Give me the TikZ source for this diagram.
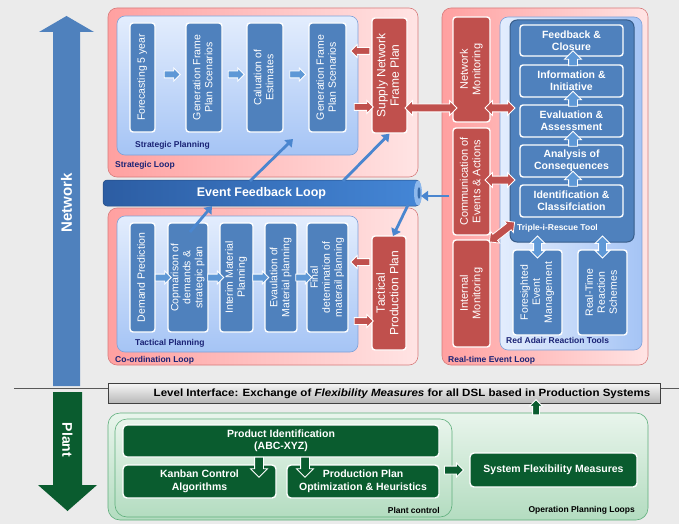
\documentclass[tikz,border=0pt]{standalone}
\usepackage{fontspec}
\setmainfont{Liberation Sans}
\usetikzlibrary{shapes.arrows,arrows.meta,calc}
\definecolor{bgc}{HTML}{EBEBEB}
\definecolor{bblue}{HTML}{4F81BD}
\definecolor{bblueD}{HTML}{385D8A}
\definecolor{bred}{HTML}{C0504D}
\definecolor{dgreen}{HTML}{0A5C2F}
\definecolor{navy}{HTML}{1A2375}
\definecolor{pinkL}{HTML}{FFA0A0}
\definecolor{pinkR}{HTML}{FFE4E4}
\definecolor{pinkB}{HTML}{D77B7B}
\definecolor{lbT}{HTML}{E3EDFD}
\definecolor{lbB}{HTML}{A5C4F5}
\definecolor{lbD}{HTML}{7FA1D8}
\definecolor{arrblue}{HTML}{4A86CF}
\definecolor{smallblue}{HTML}{5E98D6}
\definecolor{gT}{HTML}{E9F5EC}
\definecolor{gB}{HTML}{B3DCC0}
\definecolor{gD}{HTML}{5FAF7C}
\definecolor{efL}{HTML}{2C5DA3}
\definecolor{efR}{HTML}{4486D6}
\definecolor{efCap}{HTML}{8DB8EC}
\newcommand{\vt}[1]{\rotatebox{90}{\begin{tabular}{@{}c@{}}#1\end{tabular}}}
\newcommand{\BX}[7][]{\node[#2,minimum width={(#5-#3)*1pt},minimum height={(#6-#4)*1pt},#1] (#7) at ({(#3+#5)/2},{(#4+#6)/2})}
\tikzset{
 loopbox/.style={draw=pinkB, line width=0.6pt, rounded corners=9pt, left color=pinkL, right color=pinkR, inner sep=0pt},
 planbox/.style={draw=lbD, line width=0.6pt, rounded corners=8pt, top color=lbT, bottom color=lbB, inner sep=0pt},
 planboxh/.style={draw=lbD, line width=0.6pt, rounded corners=8pt, left color=lbT, right color=lbB, inner sep=0pt},
 bluebox/.style={draw=white, line width=1.4pt, rounded corners=3pt, fill=bblue, text=white, inner sep=0pt, font=\fontsize{10.5}{12}\selectfont},
 redbox/.style={bluebox, fill=bred},
 ibox/.style={bluebox, font=\fontsize{10.5}{12}\selectfont\bfseries, align=center},
 tribox/.style={draw=bblueD, line width=1pt, rounded corners=7pt, fill=bblue, inner sep=0pt},
 greenbox/.style={draw=white, line width=1.4pt, rounded corners=4pt, fill=dgreen, text=white, inner sep=0pt, font=\fontsize{10.5}{12.5}\selectfont\bfseries, align=center},
 gbox/.style={draw=gD, line width=0.6pt, rounded corners=12pt, top color=gT, bottom color=gB, inner sep=0pt},
 lvlbox/.style={draw=black!75, line width=0.7pt, top color=white!97!black, bottom color=black!28, inner sep=0pt},
 efbar/.style={draw=efL!80!black, line width=0.5pt, rounded corners=4pt, left color=efL, right color=efR, text=white, inner sep=0pt, font=\fontsize{12.5}{14}\selectfont\bfseries},
 lbl/.style={text=navy, font=\fontsize{8.5}{10}\selectfont\bfseries, anchor=west, inner sep=0pt},
 plbl/.style={text=black, font=\fontsize{8.5}{10}\selectfont\bfseries, anchor=east, inner sep=0pt},
 blk/.style={draw=white, line width=0.8pt, inner xsep=0pt, minimum width=0pt},
 sarrow/.style={single arrow, blk, fill=smallblue, inner ysep=3pt, single arrow head extend=3pt, minimum height=16pt},
 uarrow/.style={single arrow, blk, fill=smallblue, rotate=90, inner ysep=4pt, single arrow head extend=4pt, minimum height=15pt},
 vdarrow/.style={double arrow, blk, fill=smallblue, inner ysep=3.5pt, double arrow head extend=3.5pt, minimum height=22pt, rotate=90},
 rarrow/.style={single arrow, blk, fill=bred, inner ysep=3pt, single arrow head extend=3pt, minimum height=19pt},
 rdarrow/.style={double arrow, blk, fill=bred, inner ysep=3.5pt, double arrow head extend=3.5pt, minimum height=30pt},
 garrow/.style={single arrow, blk, fill=dgreen, inner ysep=3.5pt, single arrow head extend=3pt, minimum height=19pt},
 conn/.style={draw=arrblue, line width=2.8pt, -{Triangle[length=7pt,width=10pt]}},
}
\begin{document}
\begin{tikzpicture}[x=1pt,y=-1pt]
\useasboundingbox (0,0) rectangle (679,524);
\fill[bgc] (0,0) rectangle (679,524);

% side arrows
\fill[bblue] (53,386) -- (53,32) -- (39,32) -- (66.5,16) -- (94,32) -- (80,32) -- (80,386) -- cycle;
\node[text=white, font=\fontsize{15}{17}\selectfont\bfseries, rotate=90] (nwT) at (66.5,203) {Network};
\fill[dgreen] (53,392) -- (53,485) -- (38,485) -- (67.5,511) -- (97,485) -- (82,485) -- (82,392) -- cycle;
\node[text=white, font=\fontsize{14}{16}\selectfont\bfseries, rotate=-90] (plT) at (67.5,440) {Plant};

% level interface
\coordinate (hl1) at (14,388);
\coordinate (hl2) at (108,388);
\coordinate (hl3) at (660,388);
\coordinate (hl4) at (679,388);
\draw[black!65, line width=0.6pt] (hl1) -- (hl2) (hl3) -- (hl4);
\BX{lvlbox}{108}{383}{660}{403}{lif} {};
\node[font=\fontsize{10.5}{12}\selectfont\bfseries, inner sep=0pt] (lift) at (402,393.5) {\scalebox{1.1}[1]{Level Interface: Exchange of \textit{Flexibility Measures} for all DSL based in Production Systems}};

% ---------- Strategic loop
\BX{loopbox}{108}{8}{418}{177}{sl} {};
\BX{planbox}{117}{16}{358}{155}{sp} {};
\node[lbl] (slL) at (115,165) {Strategic Loop};
\node[lbl] (spL) at (135,145) {Strategic Planning};
\BX{bluebox}{130}{23}{155}{132}{s1} {\vt{Forecasting 5 year}};
\BX{bluebox}{186}{23}{222}{132}{s2} {\vt{Generation Frame\\Plan Scenarios}};
\BX{bluebox}{247}{23}{283}{132}{s3} {\vt{Caluation of\\Estimates}};
\BX{bluebox}{309}{23}{346}{132}{s4} {\vt{Generation Frame\\Plan Scenarios}};
\BX[font=\fontsize{12}{13.5}\selectfont]{redbox}{372}{18}{407}{133}{snp} {\vt{Supply Network\\Frame Plan}};
\node[sarrow, yshift=3pt] (sa1) at ($(s1.east)!.5!(s2.west)$) {};
\node[sarrow, yshift=3pt] (sa2) at ($(s2.east)!.5!(s3.west)$) {};
\node[sarrow, yshift=3pt] (sa3) at ($(s3.east)!.5!(s4.west)$) {};
\node[rarrow, rotate=180] (ra1) at (362,51) {};
\node[rarrow] (ra2) at (362,107) {};

% ---------- Co-ordination loop
\BX{loopbox}{108}{208}{418}{365}{cl} {};
\BX{planbox}{117}{216}{358}{352}{tp} {};
\node[lbl] (clL) at (115,360) {Co-ordination Loop};
\node[lbl] (tpL) at (135,343) {Tactical Planning};
\BX{bluebox}{130}{223}{155}{332}{t1} {\vt{Demand Prediction}};
\BX{bluebox}{168}{223}{208}{332}{t2} {\vt{Copmarison of\\demands \&\\strategic plan}};
\BX{bluebox}{220}{223}{253}{332}{t3} {\vt{Interim Material\\Planning}};
\BX{bluebox}{265}{223}{297}{332}{t4} {\vt{Evaulation of\\Material planning}};
\BX{bluebox}{307}{223}{348}{332}{t5} {\vt{Final\\detemination of\\materail planning}};
\BX[font=\fontsize{12}{13.5}\selectfont]{redbox}{372}{236}{406}{350}{tpp} {\vt{Tactical\\Production Plan}};
\node[sarrow] (ta1) at ($(t1.east)!.5!(t2.west)$) {};
\node[sarrow] (ta2) at ($(t2.east)!.5!(t3.west)$) {};
\node[sarrow] (ta3) at ($(t3.east)!.5!(t4.west)$) {};
\node[sarrow] (ta4) at ($(t4.east)!.5!(t5.west)$) {};
\node[rarrow, rotate=180] (ra3) at (362,262) {};
\node[rarrow] (ra4) at (362,321) {};

% ---------- Event feedback bar
\BX{efbar}{103}{180}{420}{206}{efl} {Event Feedback Loop};
\fill[efCap] (418,193) ellipse [x radius=4, y radius=12.5];
\fill[efR!80!black] (419,193) ellipse [x radius=1.5, y radius=6];

% ---------- Real-time loop
\BX{loopbox}{442}{8}{648}{365}{rl} {};
\node[lbl] (rlL) at (448,360) {Real-time Event Loop};
\BX[font=\fontsize{11}{12.5}\selectfont]{redbox}{453}{17}{490}{122}{nm} {\vt{Network\\Monitoring}};
\BX[font=\fontsize{11}{12.5}\selectfont]{redbox}{453}{128}{490}{235}{cea} {\vt{Communication of\\Events \& Actions}};
\BX[font=\fontsize{11}{12.5}\selectfont]{redbox}{453}{240}{490}{347}{im} {\vt{Internal\\Monitoring}};
\BX{planboxh}{500}{17}{642}{350}{rat} {};
\node[lbl] (ratL) at (506,340) {Red Adair Reaction Tools};
\BX{tribox}{510}{20}{634}{242}{tri} {};
\node[lbl, text=white] (triL) at (517,228) {Triple-i-Rescue Tool};
\BX{ibox}{520}{25}{623}{56}{i1} {Feedback \&\\Closure};
\BX{ibox}{520}{65}{623}{97}{i2} {Information \&\\Initiative};
\BX{ibox}{520}{105}{623}{137}{i3} {Evaluation \&\\Assessment};
\BX{ibox}{520}{145}{623}{177}{i4} {Analysis of\\Consequences};
\BX{ibox}{520}{185}{623}{217}{i5} {Identification \&\\Classifciation};
\node[uarrow] (u1) at ($(i2.north)!.5!(i1.south)+(1.5,0)$) {};
\node[uarrow] (u2) at ($(i3.north)!.5!(i2.south)+(1.5,0)$) {};
\node[uarrow] (u3) at ($(i4.north)!.5!(i3.south)+(1.5,0)$) {};
\node[uarrow] (u4) at ($(i5.north)!.5!(i4.south)+(1.5,0)$) {};
\BX{bluebox}{513}{250}{562}{335}{fem} {\vt{Foresighted\\Event\\Management}};
\BX{bluebox}{578}{250}{627}{335}{rtr} {\vt{Real-Time\\Reaction\\Schemes}};
\node[vdarrow] (vd1) at (537.5,247) {};
\node[vdarrow] (vd2) at (602.5,247) {};
\node[rdarrow, minimum height=52pt] (rd1) at (431,108) {};
\node[rdarrow] (rd2) at (500,108) {};
\node[rdarrow] (rd3) at (500,180) {};
\node[rdarrow, rotate=38, minimum height=32pt] (rd4) at (502,232) {};

% ---------- blue connectors
\coordinate (c1s) at (250,181);
\coordinate (c1e) at (293,139);
\coordinate (c2s) at (343,181);
\coordinate (c3s) at (190,232);
\coordinate (c3e) at (212,206);
\coordinate (c4s) at (408,205);
\coordinate (c4e) at (393,236);
\coordinate (c5s) at (449,196);
\coordinate (c5e) at (421,196);
\draw[conn] (c1s) -- (c1e);
\draw[conn] (c2s) -- (snp.south);
\draw[conn] (c3s) -- (c3e);
\draw[conn] (c4s) -- (c4e);
\draw[conn] (c5s) -- (c5e);

% ---------- Plant level
\BX{gbox}{108}{413}{648}{520}{opl} {};
\BX{gbox}{115}{419}{452}{517}{pc} {};
\node[plbl] (pcL) at (440,510) {Plant control};
\node[plbl] (oplL) at (635,510) {Operation Planning Loops};
\BX{greenbox}{123}{425}{439}{457}{pid} {Product Identification\\(ABC-XYZ)};
\BX{greenbox}{123}{465}{276}{498}{kca} {Kanban Control\\Algorithms};
\BX{greenbox}{287}{465}{439}{498}{ppo} {Production Plan\\Optimization \& Heuristics};
\BX{greenbox}{470}{453}{637}{487}{sfm} {System Flexibility Measures};
\node[garrow] (ga1) at (452,470) {};
\node[garrow, rotate=90, minimum height=15pt, inner ysep=3pt] (ga2) at (536,409) {};
\node[garrow, rotate=-90, minimum height=20pt, inner ysep=4pt, single arrow head extend=4pt] (gd1) at (259,465) {};
\node[garrow, rotate=-90, minimum height=20pt, inner ysep=4pt, single arrow head extend=4pt] (gd2) at (305,465) {};
\end{tikzpicture}
\end{document}
